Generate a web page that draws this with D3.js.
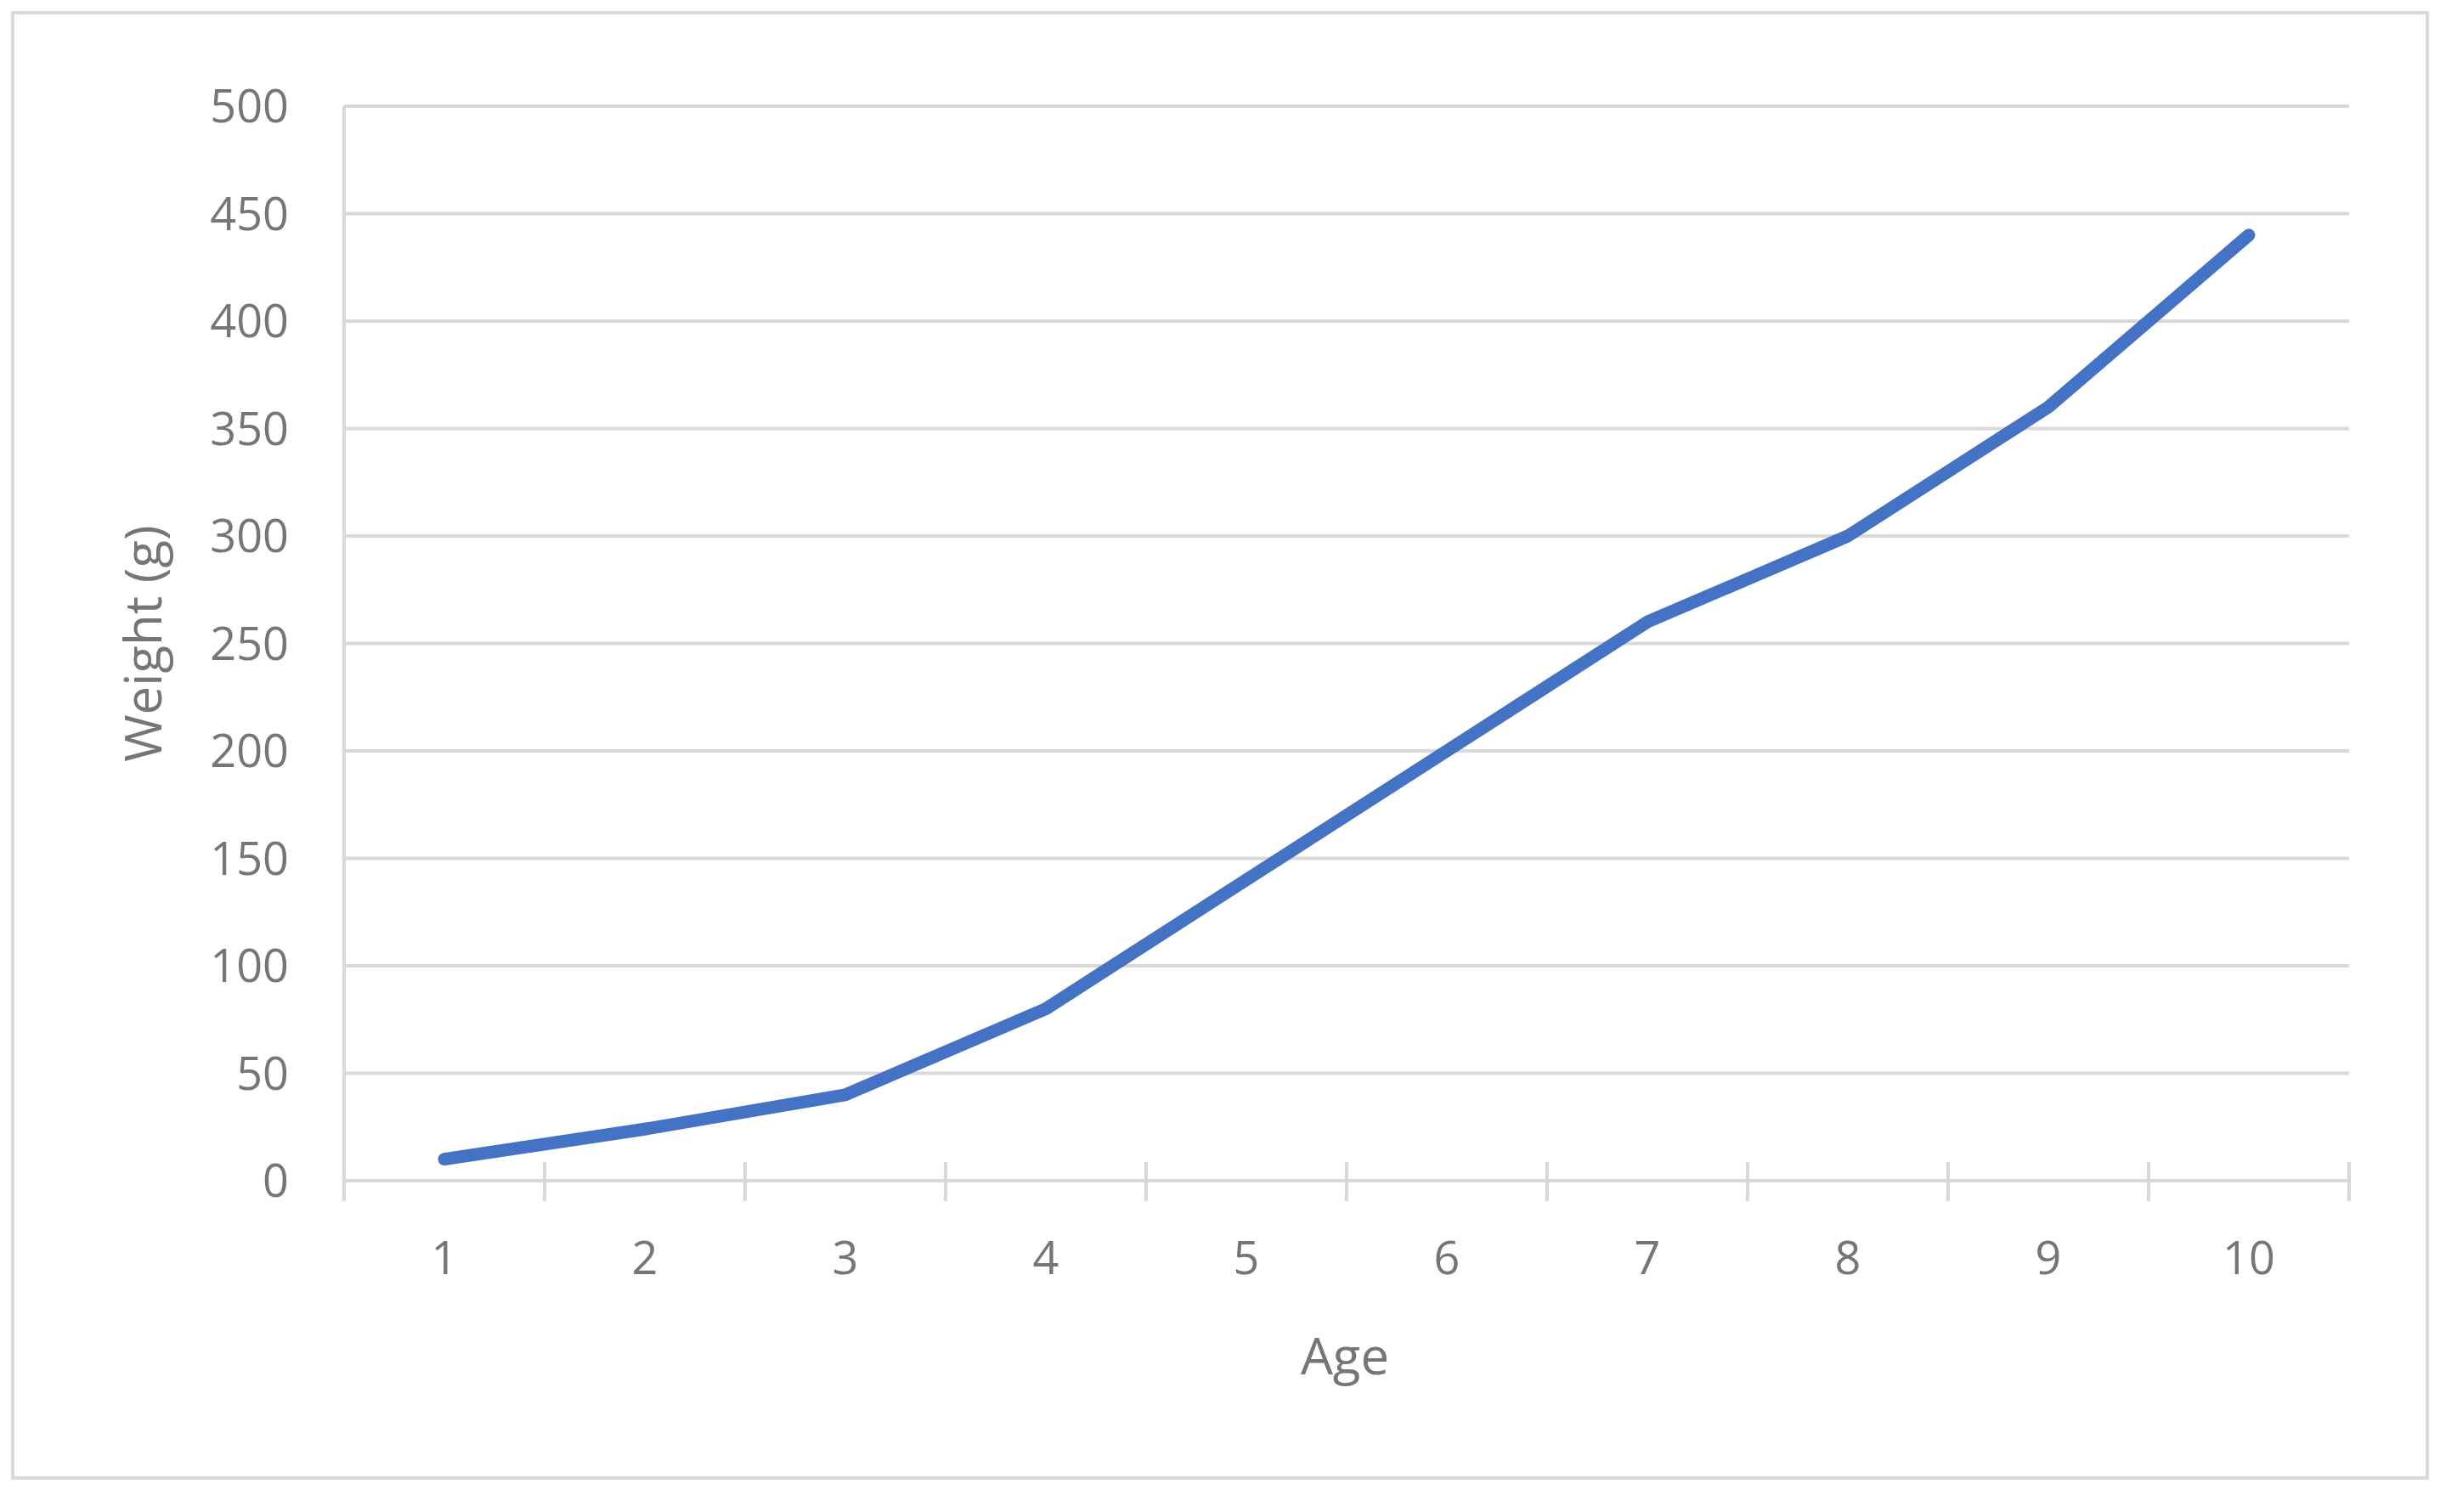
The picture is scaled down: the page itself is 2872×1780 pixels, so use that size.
<!DOCTYPE html>
<html>
<head>
<meta charset="utf-8">
<script src="https://cdn.jsdelivr.net/npm/d3@7"></script>
<style>
  body { margin: 0; background: #fff; }
  text { font-family: "Open Sans", "Liberation Sans", sans-serif; fill: #767676; }
</style>
</head>
<body>
<svg id="chart" width="2872" height="1780"></svg>
<script>
// Chart data
const ages = ["1", "2", "3", "4", "5", "6", "7", "8", "9", "10"];
const weights = [10, 24, 40, 80, 140, 200, 260, 300, 360, 440];
const yTicks = [0, 50, 100, 150, 200, 250, 300, 350, 400, 450, 500];

var margin = { top: 125, right: 107, bottom: 390, left: 405 },
  W = 2872, H = 1780;

var svg = d3.select("#chart");

// outer frame
svg.append("rect")
  .attr("x", 15).attr("y", 15)
  .attr("width", W - 30).attr("height", H - 55)
  .attr("fill", "none").attr("stroke", "#d9d9d9").attr("stroke-width", 4);

var x = d3.scaleBand().domain(ages).range([margin.left, W - margin.right]);
var y = d3.scaleLinear().domain([0, 500]).range([H - margin.bottom, margin.top]);

// gridlines
svg.append("g").selectAll("line").data(yTicks.slice(1)).enter().append("line")
  .attr("x1", margin.left).attr("x2", W - margin.right)
  .attr("y1", d => y(d)).attr("y2", d => y(d))
  .attr("stroke", "#d9d9d9").attr("stroke-width", 4);

// left axis line
svg.append("line")
  .attr("x1", margin.left).attr("x2", margin.left)
  .attr("y1", y(500)).attr("y2", y(0) + 24)
  .attr("stroke", "#d9d9d9").attr("stroke-width", 4);

// x axis line + ticks at band boundaries
svg.append("line")
  .attr("x1", margin.left).attr("x2", W - margin.right)
  .attr("y1", y(0)).attr("y2", y(0))
  .attr("stroke", "#d9d9d9").attr("stroke-width", 4);
var bounds = ages.map(a => x(a)).concat([x.range()[1]]);
svg.append("g").selectAll("line").data(bounds).enter().append("line")
  .attr("x1", d => d).attr("x2", d => d)
  .attr("y1", y(0) - 22).attr("y2", y(0) + 24)
  .attr("stroke", "#d9d9d9").attr("stroke-width", 4);

// y tick labels
svg.append("g").selectAll("text").data(yTicks).enter().append("text")
  .attr("x", 340).attr("y", d => y(d)).attr("dy", "0.36em")
  .attr("text-anchor", "end").attr("font-size", 54)
  .text(d => d);

// x tick labels
svg.append("g").selectAll("text").data(ages).enter().append("text")
  .attr("x", d => x(d) + x.bandwidth() / 2).attr("y", 1500)
  .attr("text-anchor", "middle").attr("font-size", 54)
  .text(d => d);

// axis titles
svg.append("text")
  .attr("x", 1583).attr("y", 1618)
  .attr("text-anchor", "middle").attr("font-size", 60)
  .text("Age");
svg.append("text")
  .attr("transform", "translate(190," + ((y(0) + y(500)) / 2) + ") rotate(-90)")
  .attr("text-anchor", "middle").attr("font-size", 60)
  .text("Weight (g)");

// series line
var line = d3.line()
  .x((d, i) => x(ages[i]) + x.bandwidth() / 2)
  .y(d => y(d));
svg.append("path")
  .datum(weights)
  .attr("d", line)
  .attr("fill", "none").attr("stroke", "#4472c4")
  .attr("stroke-width", 15).attr("stroke-linecap", "round").attr("stroke-linejoin", "round");
</script>
</body>
</html>
